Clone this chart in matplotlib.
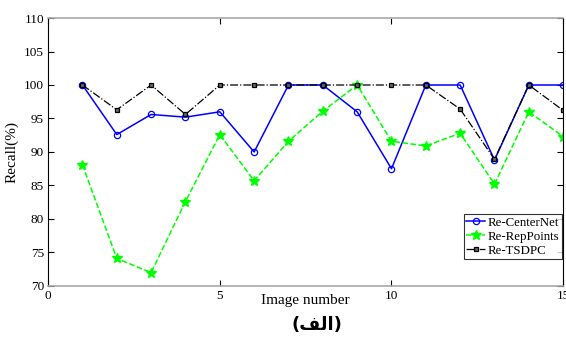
import matplotlib
matplotlib.use("Agg")
import matplotlib.pyplot as plt

# recall per image
images = list(range(1, 16))
centernet = [100, 92.6, 95.6, 95.2, 96.0, 90.0, 100, 100, 96.0, 87.5, 100, 100, 88.8, 100, 100]
reppoints = [88.1, 74.1, 72.0, 82.6, 92.6, 85.7, 91.6, 96.1, 100, 91.6, 90.9, 92.8, 85.2, 96.0, 92.3]
tsdpc = [100, 96.3, 100, 95.6, 100, 100, 100, 100, 100, 100, 100, 96.4, 88.9, 100, 96.2]

plt.rcParams['font.family'] = ['Liberation Serif', 'DejaVu Sans']

fig = plt.figure(figsize=(5.66, 3.40), dpi=100)
ax = fig.add_axes([0.085, 0.159, 0.910, 0.788])

ax.plot(images, centernet, '-', color='#0000ff', lw=1.1, marker='o', ms=4.5,
        mfc='none', mec='#0000ff', mew=0.9, label='Re-CenterNet')
ax.plot(images, reppoints, '--', color='#00ff00', lw=1.1, marker='*', ms=7,
        mfc='#00ff00', mec='#00ff00', label='Re-RepPoints')
ax.plot(images, tsdpc, '-.', color='black', lw=0.9, marker='s', ms=3.5,
        mfc='#666666', mec='black', mew=0.9, label='Re-TSDPC')

ax.set_xlim(0, 15)
ax.set_ylim(70, 110)
ax.set_xticks([0, 5, 10, 15])
ax.set_yticks(range(70, 111, 5))
ax.tick_params(direction='in', top=True, right=True, labelsize=9.5, length=4, width=0.8, pad=3)
for s in ('left', 'right'):
    ax.spines[s].set_color('black')
for s in ('top', 'bottom'):
    ax.spines[s].set_color('#a8a8a8')
    ax.spines[s].set_linewidth(1.2)

ax.set_xlabel('Image number', fontsize=11, labelpad=-6)
ax.set_ylabel('Recall(%)', fontsize=11)
ax.yaxis.set_label_coords(-0.058, 0.5)

leg = ax.legend(loc='lower right', bbox_to_anchor=(0.997, 0.10), fontsize=9.3,
                frameon=True, fancybox=False, borderpad=0.2, labelspacing=0.15,
                handlelength=1.5, handletextpad=0.15, borderaxespad=0.0)
leg.get_frame().set_edgecolor('black')
leg.get_frame().set_linewidth(0.8)

# caption "(الف)" in visual order with presentation forms
fig.text(0.56, 0.045, '(\uFED2\uFEDF\uFE8D)', ha='center', va='center',
         fontsize=13, fontweight='bold', family=['DejaVu Sans'])

fig.savefig('out.png', dpi=100)
